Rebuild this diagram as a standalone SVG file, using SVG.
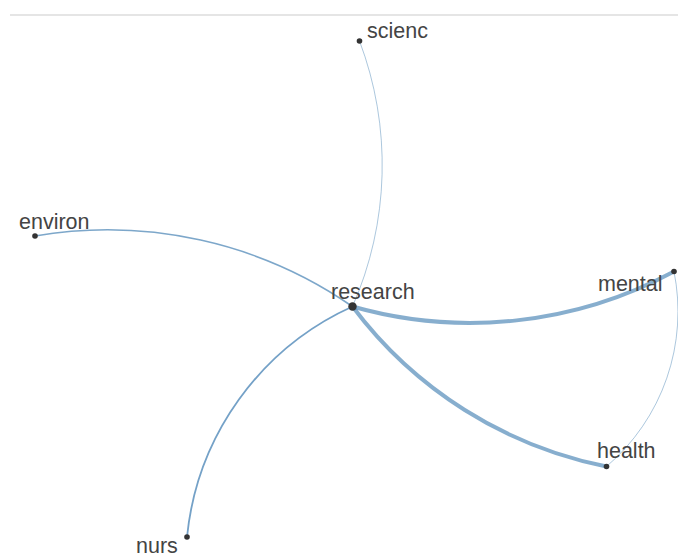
<svg xmlns="http://www.w3.org/2000/svg" width="678" height="558" viewBox="0 0 678 558">
<style>
.link{fill:none;stroke:#4682b4;stroke-linecap:round}
.node circle{fill:#333}
.node text{font-family:"Liberation Sans",Arial,sans-serif;font-size:21.5px;fill:#444}
</style>
<rect width="678" height="558" fill="#fff"/>
<line x1="10" y1="15" x2="678" y2="15" stroke="#ddd" stroke-width="1.5"/>
<g id="links">
<path class="link" d="M352.5,306.5 A350,350 0 0,0 359.5,41" stroke-width="1" stroke-opacity="0.45"/>
<path class="link" d="M352.5,306.5 A430,430 0 0,0 35,236" stroke-width="1.6" stroke-opacity="0.7"/>
<path class="link" d="M352.5,306.5 A284,284 0 0,0 187,537" stroke-width="1.8" stroke-opacity="0.75"/>
<path class="link" d="M352.5,306.5 A430,430 0 0,0 674,271.5" stroke-width="4" stroke-opacity="0.65"/>
<path class="link" d="M352.5,306.5 A420,420 0 0,0 606.5,466.5" stroke-width="4" stroke-opacity="0.65"/>
<path class="link" d="M674,271.5 A203,203 0 0,1 606.5,466.5" stroke-width="1" stroke-opacity="0.45"/>
</g>
<g id="node-scienc" class="node"><circle cx="359.5" cy="41" r="2.8"/><text x="367" y="38">scienc</text></g>
<g id="node-environ" class="node"><circle cx="35" cy="236" r="2.8"/><text x="19" y="229">environ</text></g>
<g id="node-research" class="node"><circle cx="352.5" cy="306.5" r="4.2"/><text x="331" y="299">research</text></g>
<g id="node-mental" class="node"><circle cx="674" cy="271.5" r="2.8"/><text x="598" y="291">mental</text></g>
<g id="node-health" class="node"><circle cx="606.5" cy="466.5" r="2.8"/><text x="597" y="458">health</text></g>
<g id="node-nurs" class="node"><circle cx="187" cy="537" r="2.8"/><text x="136" y="553">nurs</text></g>
</svg>
